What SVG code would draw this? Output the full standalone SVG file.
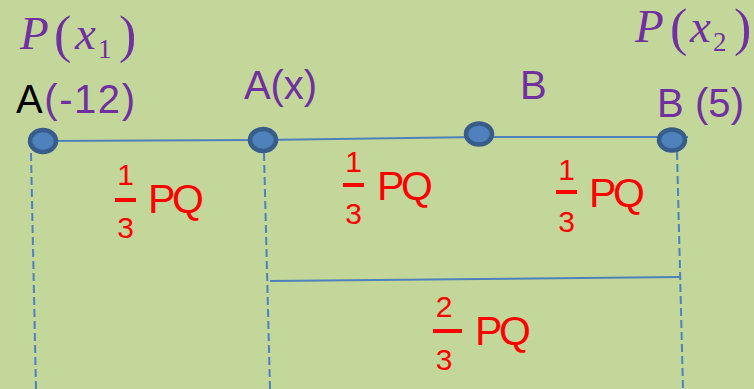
<svg xmlns="http://www.w3.org/2000/svg" width="754" height="389" viewBox="0 0 754 389">
<style>
.sans{font-family:"Liberation Sans",Arial,sans-serif}
.lbl{font-size:40px;fill:#7030A0}
.math{font-family:"Liberation Serif","Times New Roman",serif;fill:#7030A0;font-size:47px}
.it{font-style:italic}
.par{font-size:52px}
.sub{font-size:27px}
.red{fill:#FF0000}
.dig{font-size:30px;text-anchor:middle}
.pq{font-size:41px}
.bar{stroke:#FF0000;stroke-width:4}
.dot{fill:#4F81BD;stroke:#385D8A;stroke-width:4.5}
.ln{stroke:#4F81BD;stroke-width:2;fill:none}
.dash{stroke:#4F81BD;stroke-width:2;fill:none;stroke-dasharray:8 4}
</style>
<rect width="754" height="389" fill="#C4D79B"/>
<g id="connectors">
<polyline class="ln" points="43,141 263,140 479,137 688,137"/>
<line class="dash" x1="31" y1="153" x2="36" y2="389"/>
<line class="dash" x1="264" y1="153" x2="270" y2="389"/>
<line class="dash" x1="677" y1="152" x2="683" y2="389"/>
<line class="ln" x1="270" y1="281" x2="680" y2="277"/>
</g>
<g id="px1">
<text class="math" y="49"><tspan class="it" x="20">P</tspan><tspan class="par" x="54" y="52">(</tspan><tspan class="it" x="75" y="49">x</tspan><tspan class="sub" x="98" y="58">1</tspan><tspan class="par" x="119" y="52">)</tspan></text>
</g>
<g id="px2">
<text class="math" y="42"><tspan class="it" x="635">P</tspan><tspan class="par" x="670" y="45">(</tspan><tspan class="it" x="690" y="42">x</tspan><tspan class="sub" x="713" y="51">2</tspan><tspan class="par" x="734" y="45">)</tspan></text>
</g>
<g id="nodeA">
<ellipse class="dot" cx="43" cy="141" rx="13" ry="11"/>
<text class="sans lbl" x="16" y="113" textLength="119"><tspan fill="#000000">A</tspan>(-12)</text>
</g>
<g id="nodeAx">
<ellipse class="dot" cx="263" cy="140" rx="13" ry="11"/>
<text class="sans lbl" x="244" y="99" textLength="73">A(x)</text>
</g>
<g id="nodeBmid">
<ellipse class="dot" cx="479" cy="134" rx="13" ry="10.5"/>
<text class="sans lbl" x="520" y="99">B</text>
</g>
<g id="nodeB">
<ellipse class="dot" cx="672" cy="140" rx="13" ry="10.5"/>
<text class="sans lbl" x="657" y="117" textLength="87">B (5)</text>
</g>
<g id="frac1">
<text class="sans red dig" x="125.5" y="185">1</text>
<line class="bar" x1="115" y1="200" x2="136" y2="200"/>
<text class="sans red dig" x="125.5" y="238">3</text>
<text class="sans red pq" x="148" y="213" textLength="56">PQ</text>
</g>
<g id="frac2">
<text class="sans red dig" x="353.5" y="172">1</text>
<line class="bar" x1="343" y1="185" x2="364" y2="185"/>
<text class="sans red dig" x="353.5" y="224">3</text>
<text class="sans red pq" x="377" y="200" textLength="56">PQ</text>
</g>
<g id="frac3">
<text class="sans red dig" x="566.5" y="180">1</text>
<line class="bar" x1="556" y1="192" x2="577" y2="192"/>
<text class="sans red dig" x="566.5" y="232">3</text>
<text class="sans red pq" x="589" y="207" textLength="56">PQ</text>
</g>
<g id="frac4">
<text class="sans red dig" x="444" y="317">2</text>
<line class="bar" x1="433" y1="331" x2="462" y2="331"/>
<text class="sans red dig" x="444" y="370">3</text>
<text class="sans red pq" x="475" y="345" textLength="56">PQ</text>
</g>
</svg>
